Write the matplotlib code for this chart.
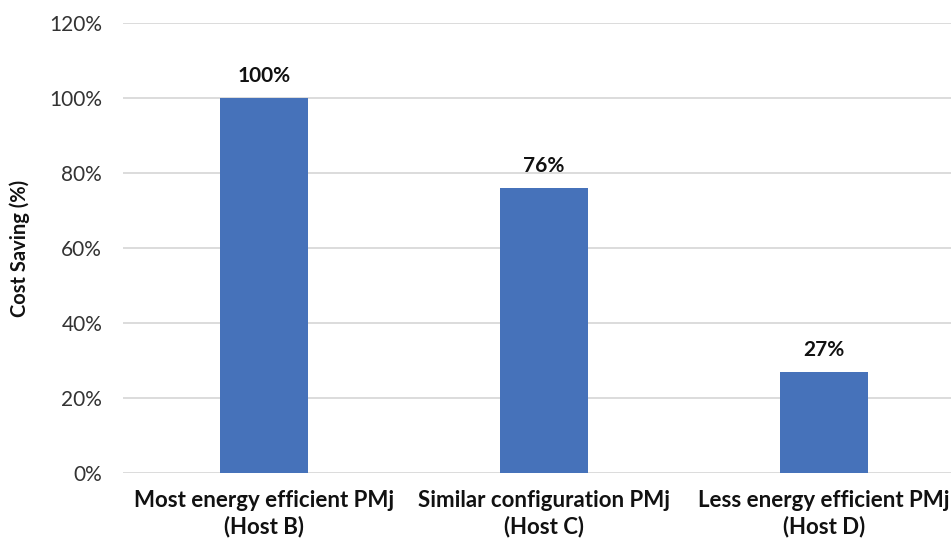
import matplotlib
matplotlib.use("Agg")
import matplotlib.pyplot as plt
from matplotlib.ticker import FuncFormatter

categories = ["Most energy efficient PMj\n(Host B)",
              "Similar configuration PMj\n(Host C)",
              "Less energy efficient PMj\n(Host D)"]
values = [100, 76, 27]
value_labels = ["100%", "76%", "27%"]
yticks = [0, 20, 40, 60, 80, 100, 120]

plt.rcParams['font.family'] = ['Lato', 'DejaVu Sans']

fig = plt.figure(figsize=(9.51, 5.48), dpi=100)
ax = fig.add_axes([123/951, (548-473.3)/548, 1 - 123/951, (473.3-23.3)/548])

x = list(range(len(categories)))
bars = ax.bar(x, values, width=0.315, color="#4672BA", zorder=3)

for b, lab in zip(bars, value_labels):
    ax.annotate(lab, (b.get_x() + b.get_width()/2, b.get_height()),
                xytext=(0, 9), textcoords="offset points",
                ha="center", va="bottom", fontsize=15, fontweight="bold",
                color="#111111")

ax.set_ylim(0, 120)
ax.set_xlim(-0.504, 2.454)
ax.set_yticks(yticks)
ax.yaxis.set_major_formatter(FuncFormatter(lambda v, p: f"{int(v)}%"))
ax.set_xticks(x)
ax.set_xticklabels(categories, fontsize=16, fontweight="bold", color="#111111",
                   linespacing=1.25)
ax.tick_params(axis="y", labelsize=15, colors="#333333", length=0, pad=15)
ax.tick_params(axis="x", length=0, pad=12)
ax.grid(axis="y", color="#D9D9D9", linewidth=1.3, zorder=0)
for s in ax.spines.values():
    s.set_visible(False)
ax.set_ylabel("Cost Saving (%)", fontsize=14.5, fontweight="bold", color="#111111",
              labelpad=14)

fig.savefig("out.png", dpi=100)
